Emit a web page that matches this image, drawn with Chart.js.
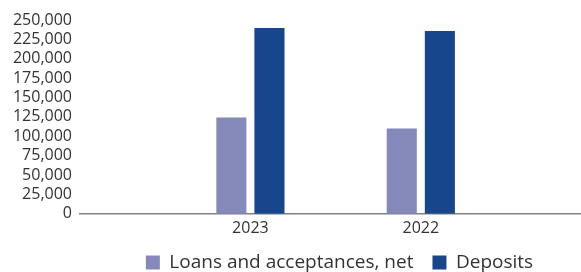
<!DOCTYPE html>
<html>
<head>
<meta charset="utf-8">
<script src="https://cdn.jsdelivr.net/npm/chart.js@4"></script>
<style>
  html, body { margin: 0; padding: 0; background: #fff; }
  #wrap { width: 581px; height: 272px; }
</style>
</head>
<body>
<div id="wrap"><canvas id="myChart"></canvas></div>
<script>
const years = ["2023", "2022"];
const loans = [124300, 110100];
const deposits = [239600, 235800];
const yTicks = [0, 25000, 50000, 75000, 100000, 125000, 150000, 175000, 200000, 225000, 250000];

// bars sit on a linear x axis so the spacing can match the original
const toPoints = (vals) => vals.map((v, i) => ({ x: i + 1, y: v }));

// nudge the legend a little, the original is not centred
const legendShift = {
  id: "legendShift",
  afterLayout(chart) {
    const lg = chart.legend;
    lg.left += 9;
    lg.right += 9;
    lg.top -= 9;
    lg.bottom = chart.height;
    lg.height = lg.bottom - lg.top;
  },
};

const ctx = document.getElementById("myChart");

const newChart = new Chart(ctx, {
  type: "bar",
  data: {
    datasets: [
      {
        label: "Loans and acceptances, net",
        data: toPoints(loans),
        backgroundColor: "#8589ba",
        categoryPercentage: 0.447,
        barPercentage: 0.79,
      },
      {
        label: "Deposits",
        data: toPoints(deposits),
        backgroundColor: "#17468c",
        categoryPercentage: 0.447,
        barPercentage: 0.79,
      },
    ],
  },
  plugins: [legendShift],
  options: {
    responsive: true,
    maintainAspectRatio: false,
    animation: false,
    layout: { padding: { top: 20, right: 0, left: 0, bottom: 0 } },
    scales: {
      x: {
        type: "linear",
        offset: false,
        min: 0,
        max: 2.94,
        afterBuildTicks: (scale) => {
          scale.ticks = years.map((y, i) => ({ value: i + 1 }));
        },
        grid: { display: false, drawTicks: false },
        border: { display: true, color: "#808080", width: 1.5 },
        ticks: {
          padding: 5,
          autoSkip: false,
          maxRotation: 0,
          color: "#333",
          font: { family: "Open Sans", size: 16 },
          callback: (v) => years[v - 1],
        },
      },
      y: {
        min: 0,
        max: 250000,
        afterBuildTicks: (scale) => {
          scale.ticks = yTicks.map((v) => ({ value: v }));
        },
        afterFit: (scale) => {
          scale.width = 80;
        },
        grid: { display: false, drawTicks: false },
        border: { display: false },
        ticks: {
          padding: 8,
          autoSkip: false,
          color: "#333",
          font: { family: "Open Sans", size: 16 },
          callback: (v) => v.toLocaleString("en-US"),
        },
      },
    },
    plugins: {
      tooltip: { enabled: false },
      legend: {
        position: "bottom",
        fullSize: false,
        maxHeight: 29,
        labels: {
          boxWidth: 14,
          boxHeight: 14,
          padding: 19,
          color: "#333",
          font: { family: "Open Sans", size: 19 },
        },
      },
    },
  },
});
</script>
</body>
</html>
